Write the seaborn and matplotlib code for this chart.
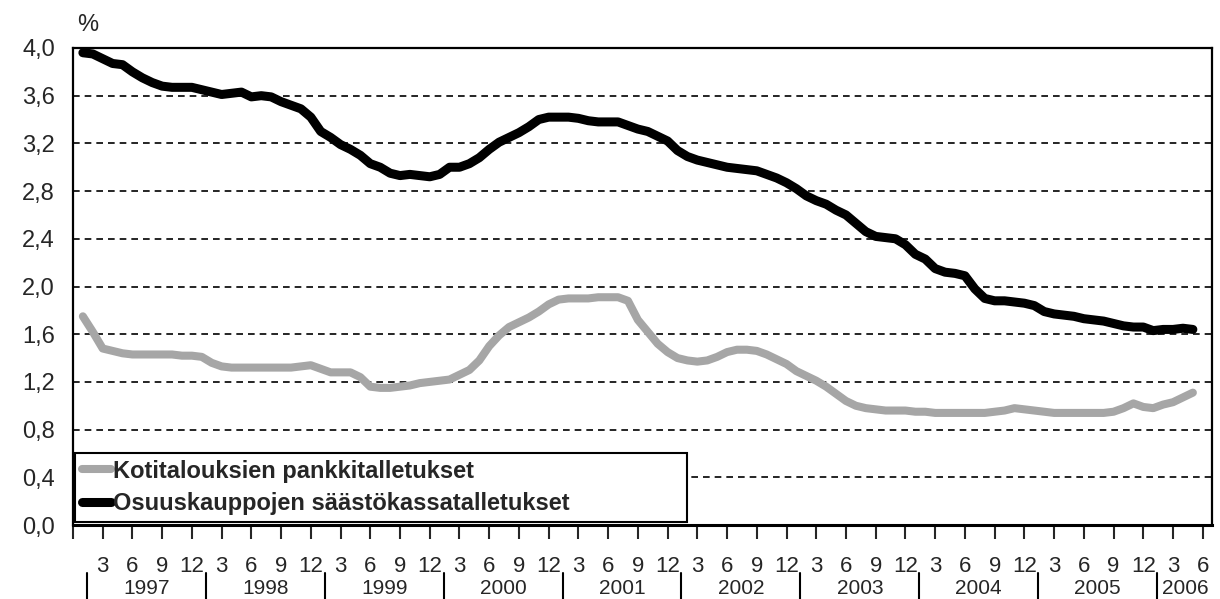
import numpy as np
import pandas as pd
import matplotlib.pyplot as plt
import matplotlib.transforms as mtransforms
import seaborn as sns

# Monthly data, 1997-01 .. 2006-05
months = pd.period_range('1997-01', '2006-05', freq='M')

osuuskaupat = [
    3.96, 3.95, 3.91, 3.87, 3.86, 3.80, 3.75, 3.71, 3.68, 3.67, 3.67, 3.67,
    3.65, 3.63, 3.61, 3.62, 3.63, 3.59, 3.60, 3.59, 3.55, 3.52, 3.49, 3.42,
    3.30, 3.25, 3.19, 3.15, 3.10, 3.03, 3.00, 2.95, 2.93, 2.94, 2.93, 2.92,
    2.94, 3.00, 3.00, 3.03, 3.08, 3.15, 3.21, 3.25, 3.29, 3.34, 3.40, 3.42,
    3.42, 3.42, 3.41, 3.39, 3.38, 3.38, 3.38, 3.35, 3.32, 3.30, 3.26, 3.22,
    3.14, 3.09, 3.06, 3.04, 3.02, 3.00, 2.99, 2.98, 2.97, 2.94, 2.91, 2.87,
    2.82, 2.76, 2.72, 2.69, 2.64, 2.60, 2.53, 2.46, 2.42, 2.41, 2.40, 2.35,
    2.27, 2.23, 2.15, 2.12, 2.11, 2.09, 1.98, 1.90, 1.88, 1.88, 1.87, 1.86,
    1.84, 1.79, 1.77, 1.76, 1.75, 1.73, 1.72, 1.71, 1.69, 1.67, 1.66, 1.66,
    1.63, 1.64, 1.64, 1.65, 1.64,
]

kotitaloudet = [
    1.75, 1.62, 1.48, 1.46, 1.44, 1.43, 1.43, 1.43, 1.43, 1.43, 1.42, 1.42,
    1.41, 1.36, 1.33, 1.32, 1.32, 1.32, 1.32, 1.32, 1.32, 1.32, 1.33, 1.34,
    1.31, 1.28, 1.28, 1.28, 1.24, 1.16, 1.15, 1.15, 1.16, 1.17, 1.19, 1.20,
    1.21, 1.22, 1.26, 1.30, 1.38, 1.50, 1.59, 1.66, 1.70, 1.74, 1.79, 1.85,
    1.89, 1.90, 1.90, 1.90, 1.91, 1.91, 1.91, 1.88, 1.72, 1.62, 1.52, 1.45,
    1.40, 1.38, 1.37, 1.38, 1.41, 1.45, 1.47, 1.47, 1.46, 1.43, 1.39, 1.35,
    1.29, 1.25, 1.21, 1.16, 1.10, 1.04, 1.00, 0.98, 0.97, 0.96, 0.96, 0.96,
    0.95, 0.95, 0.94, 0.94, 0.94, 0.94, 0.94, 0.94, 0.95, 0.96, 0.98, 0.97,
    0.96, 0.95, 0.94, 0.94, 0.94, 0.94, 0.94, 0.94, 0.95, 0.98, 1.02, 0.99,
    0.98, 1.01, 1.03, 1.07, 1.11,
]

label_koti = 'Kotitalouksien pankkitalletukset'
label_osk = 'Osuuskauppojen säästökassatalletukset'
years = ['1997', '1998', '1999', '2000', '2001', '2002', '2003', '2004', '2005', '2006']
month_labels = ['3', '6', '9', '12']

# months counted from Dec 1996 (= 0)
df = pd.DataFrame({
    'm': [(p.year - 1997) * 12 + p.month for p in months],
    'koti': kotitaloudet,
    'osk': osuuskaupat,
})

sns.set_style('white')
plt.rcParams['font.family'] = ['Liberation Sans', 'DejaVu Sans']

fig = plt.figure(figsize=(12.2, 5.99), dpi=100)
ax = fig.add_axes([0.0598, 0.1235, 0.9334, 0.7964])

sns.lineplot(data=df, x='m', y='koti', ax=ax, color='#a6a6a6', linewidth=5.8,
             label=label_koti)
sns.lineplot(data=df, x='m', y='osk', ax=ax, color='black', linewidth=6.5,
             label=label_osk, solid_capstyle='round')

ax.set_xlim(0, 114.9)
ax.set_ylim(0, 4.0)
ax.set_xlabel('')
ax.set_ylabel('')

# y axis
yt = np.arange(0, 4.01, 0.4)
ax.set_yticks(yt)
ax.set_yticklabels([f'{v:.1f}'.replace('.', ',') for v in yt])
ax.yaxis.grid(True, linestyle=(0, (4, 3)), color='black', linewidth=1.2)
ax.tick_params(axis='y', length=0, pad=13, labelsize=17)

# x axis: ticks every third month
xt = list(range(0, 115, 3))
ax.set_xticks(xt)
ax.set_xticklabels([''] + [month_labels[i % 4] for i in range(len(xt) - 1)])
ax.tick_params(axis='x', direction='out', length=10, width=1.5, pad=12,
               labelsize=16, bottom=True)

for side in ['left', 'top', 'right', 'bottom']:
    ax.spines[side].set_color('black')
    ax.spines[side].set_linewidth(1.6)
ax.spines['bottom'].set_linewidth(2.2)

# year row with separators
trans = mtransforms.blended_transform_factory(ax.transData, fig.transFigure)
seps = [1.4 + 12 * i for i in range(10)]
for s in seps:
    ax.plot([s, s], [0.0, 0.043], color='black', linewidth=1.5,
            transform=trans, clip_on=False)
for i, yr in enumerate(years[:-1]):
    ax.text(seps[i] + 6, 0.018, yr, transform=trans, ha='center', va='center',
            fontsize=15)
ax.text(seps[-1] + 0.5, 0.018, years[-1], transform=trans, ha='left',
        va='center', fontsize=15)

fig.text(0.063, 0.958, '%', fontsize=17, va='center')

leg = ax.legend(loc='lower left', bbox_to_anchor=(0.002, 0.006, 0.537, 0.155),
                mode='expand', fancybox=False, framealpha=1, edgecolor='black',
                prop={'weight': 'bold', 'size': 17}, handlelength=1.2,
                handletextpad=0.1, borderpad=0.3, labelspacing=0.4,
                borderaxespad=0)
leg.get_frame().set_linewidth(1.5)

fig.savefig('out.png', dpi=100)
